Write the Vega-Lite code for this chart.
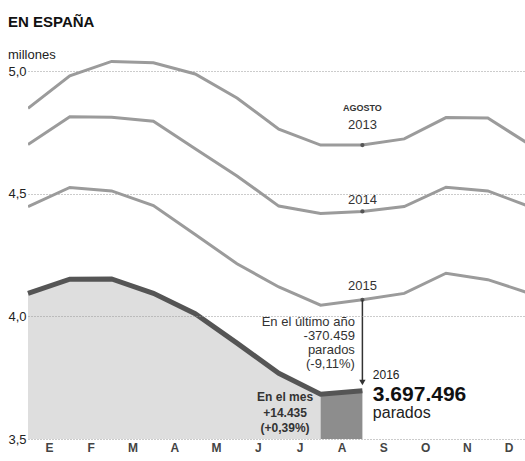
{
  "$schema": "https://vega.github.io/schema/vega-lite/v6.json",
  "autosize": {"type": "none"},
  "padding": {"left": 28, "top": 59, "right": 0, "bottom": 22},
  "width": 497,
  "height": 380,
  "background": "white",
  "config": {
    "font": "Liberation Sans Narrow, Liberation Sans, sans-serif",
    "view": {"stroke": null}
  },
  "title": {
    "text": "EN ESPAÑA",
    "subtitle": "millones",
    "anchor": "start",
    "frame": "group",
    "dx": -20,
    "offset": -3,
    "fontSize": 15,
    "fontWeight": "bold",
    "color": "#111",
    "subtitleFontSize": 13,
    "subtitleColor": "#222",
    "subtitlePadding": 19,
    "font": "Liberation Sans Narrow, Liberation Sans, sans-serif",
    "subtitleFont": "Liberation Sans Narrow, Liberation Sans, sans-serif"
  },
  "datasets": {
    "series": [
      {"year": "2013", "i": 0, "v": 4.849}, {"year": "2013", "i": 1, "v": 4.981}, {"year": "2013", "i": 2, "v": 5.040}, {"year": "2013", "i": 3, "v": 5.035}, {"year": "2013", "i": 4, "v": 4.989}, {"year": "2013", "i": 5, "v": 4.891}, {"year": "2013", "i": 6, "v": 4.764}, {"year": "2013", "i": 7, "v": 4.699}, {"year": "2013", "i": 8, "v": 4.699}, {"year": "2013", "i": 9, "v": 4.724}, {"year": "2013", "i": 10, "v": 4.811}, {"year": "2013", "i": 11, "v": 4.809}, {"year": "2013", "i": 12, "v": 4.701},
      {"year": "2014", "i": 0, "v": 4.701}, {"year": "2014", "i": 1, "v": 4.814}, {"year": "2014", "i": 2, "v": 4.812}, {"year": "2014", "i": 3, "v": 4.796}, {"year": "2014", "i": 4, "v": 4.684}, {"year": "2014", "i": 5, "v": 4.573}, {"year": "2014", "i": 6, "v": 4.450}, {"year": "2014", "i": 7, "v": 4.420}, {"year": "2014", "i": 8, "v": 4.428}, {"year": "2014", "i": 9, "v": 4.448}, {"year": "2014", "i": 10, "v": 4.527}, {"year": "2014", "i": 11, "v": 4.512}, {"year": "2014", "i": 12, "v": 4.448},
      {"year": "2015", "i": 0, "v": 4.448}, {"year": "2015", "i": 1, "v": 4.526}, {"year": "2015", "i": 2, "v": 4.512}, {"year": "2015", "i": 3, "v": 4.452}, {"year": "2015", "i": 4, "v": 4.334}, {"year": "2015", "i": 5, "v": 4.215}, {"year": "2015", "i": 6, "v": 4.120}, {"year": "2015", "i": 7, "v": 4.046}, {"year": "2015", "i": 8, "v": 4.068}, {"year": "2015", "i": 9, "v": 4.094}, {"year": "2015", "i": 10, "v": 4.176}, {"year": "2015", "i": 11, "v": 4.150}, {"year": "2015", "i": 12, "v": 4.094}
    ],
    "y2016": [
      {"i": 0, "v": 4.094}, {"i": 1, "v": 4.152}, {"i": 2, "v": 4.153}, {"i": 3, "v": 4.094}, {"i": 4, "v": 4.011}, {"i": 5, "v": 3.891}, {"i": 6, "v": 3.768}, {"i": 7, "v": 3.683}, {"i": 8, "v": 3.697}
    ],
    "aug": [
      {"year": "2013", "i": 8, "v": 4.699}, {"year": "2014", "i": 8, "v": 4.428}, {"year": "2015", "i": 8, "v": 4.068}
    ],
    "arrow": [{"i": 8, "from": 4.068, "to": 3.73}],
    "yearLabels": [
      {"i": 8, "v": 4.781, "t": "2013"}, {"i": 8, "v": 4.475, "t": "2014"}, {"i": 8, "v": 4.124, "t": "2015"}
    ],
    "agosto": [{"i": 8, "v": 4.85, "t": "AGOSTO"}],
    "yearNote": [
      {"i": 7.82, "v": 3.977, "t": "En el último año"}, {"i": 7.82, "v": 3.920, "t": "-370.459"}, {"i": 7.82, "v": 3.863, "t": "parados"}, {"i": 7.82, "v": 3.806, "t": "(-9,11%)"}
    ],
    "monthNote": [
      {"i": 6.15, "v": 3.671, "t": "En el mes"}, {"i": 6.15, "v": 3.606, "t": "+14.435"}, {"i": 6.15, "v": 3.545, "t": "(+0,39%)"}
    ],
    "label2016": [{"i": 8.25, "v": 3.761, "t": "2016"}],
    "bigNum": [{"i": 8.25, "v": 3.680, "t": "3.697.496"}],
    "parados": [{"i": 8.25, "v": 3.606, "t": "parados"}]
  },
  "layer": [
    {
      "data": {"name": "y2016"},
      "transform": [{"filter": "datum.i <= 7"}],
      "mark": {"type": "area", "color": "#dedede", "clip": true},
      "encoding": {
        "x": {"field": "i", "type": "quantitative", "scale": {"domain": [0, 11.89], "nice": false, "zero": false},
          "axis": {"values": [0.5, 1.5, 2.5, 3.5, 4.5, 5.5, 6.5, 7.5, 8.5, 9.5, 10.5, 11.5],
            "labelExpr": "['E','F','M','A','M','J','J','A','S','O','N','D'][floor(datum.value)]",
            "domain": false, "ticks": false, "grid": false, "title": null,
            "labelFontSize": 12, "labelColor": "#444", "labelPadding": 3, "labelFontWeight": "bold"}},
        "y": {"field": "v", "type": "quantitative", "scale": {"domain": [3.5, 5.05], "nice": false, "zero": false},
          "axis": {"values": [3.5, 4.0, 4.5, 5.0], "labelExpr": "replace(format(datum.value, '.1f'), '.', ',')",
            "domain": false, "ticks": false, "labelAlign": "left", "labelPadding": 20, "labelFontSize": 13,
            "labelColor": "#222", "title": null, "gridDash": [1, 2], "gridColor": "#999", "gridWidth": 1, "zindex": 1}},
        "y2": {"datum": 3.5}
      }
    },
    {
      "data": {"name": "y2016"},
      "transform": [{"filter": "datum.i >= 7"}],
      "mark": {"type": "area", "color": "#8d8d8d"},
      "encoding": {
        "x": {"field": "i", "type": "quantitative"},
        "y": {"field": "v", "type": "quantitative"},
        "y2": {"datum": 3.5}
      }
    },
    {
      "data": {"name": "series"},
      "mark": {"type": "line", "color": "#9b9b9b", "strokeWidth": 3, "clip": true},
      "encoding": {
        "x": {"field": "i", "type": "quantitative"},
        "y": {"field": "v", "type": "quantitative"},
        "detail": {"field": "year"}
      }
    },
    {
      "data": {"name": "y2016"},
      "mark": {"type": "line", "color": "#555555", "strokeWidth": 5},
      "encoding": {
        "x": {"field": "i", "type": "quantitative"},
        "y": {"field": "v", "type": "quantitative"}
      }
    },
    {
      "data": {"name": "aug"},
      "mark": {"type": "point", "filled": true, "color": "#555", "size": 18, "opacity": 1},
      "encoding": {
        "x": {"field": "i", "type": "quantitative"},
        "y": {"field": "v", "type": "quantitative"}
      }
    },
    {
      "data": {"name": "arrow"},
      "mark": {"type": "rule", "color": "#333", "strokeWidth": 1.5},
      "encoding": {
        "x": {"field": "i", "type": "quantitative"},
        "y": {"field": "from", "type": "quantitative"},
        "y2": {"field": "to"}
      }
    },
    {
      "data": {"name": "arrow"},
      "mark": {"type": "point", "shape": "triangle-down", "filled": true, "color": "#333", "size": 40, "opacity": 1},
      "encoding": {
        "x": {"field": "i", "type": "quantitative"},
        "y": {"field": "to", "type": "quantitative"}
      }
    },
    {
      "data": {"name": "yearLabels"},
      "mark": {"type": "text", "fontSize": 13, "color": "#333", "align": "center", "baseline": "middle"},
      "encoding": {
        "x": {"field": "i", "type": "quantitative"},
        "y": {"field": "v", "type": "quantitative"},
        "text": {"field": "t"}
      }
    },
    {
      "data": {"name": "agosto"},
      "mark": {"type": "text", "fontSize": 9, "fontWeight": "bold", "color": "#333", "align": "center", "baseline": "middle"},
      "encoding": {
        "x": {"field": "i", "type": "quantitative"},
        "y": {"field": "v", "type": "quantitative"},
        "text": {"field": "t"}
      }
    },
    {
      "data": {"name": "yearNote"},
      "mark": {"type": "text", "fontSize": 13, "color": "#333", "align": "right", "baseline": "middle"},
      "encoding": {
        "x": {"field": "i", "type": "quantitative"},
        "y": {"field": "v", "type": "quantitative"},
        "text": {"field": "t"}
      }
    },
    {
      "data": {"name": "monthNote"},
      "mark": {"type": "text", "fontSize": 12, "fontWeight": "bold", "color": "#333", "align": "center", "baseline": "middle"},
      "encoding": {
        "x": {"field": "i", "type": "quantitative"},
        "y": {"field": "v", "type": "quantitative"},
        "text": {"field": "t"}
      }
    },
    {
      "data": {"name": "label2016"},
      "mark": {"type": "text", "fontSize": 12, "color": "#222", "align": "left", "baseline": "middle"},
      "encoding": {
        "x": {"field": "i", "type": "quantitative"},
        "y": {"field": "v", "type": "quantitative"},
        "text": {"field": "t"}
      }
    },
    {
      "data": {"name": "bigNum"},
      "mark": {"type": "text", "fontSize": 21, "fontWeight": "bold", "color": "#111", "align": "left", "baseline": "middle"},
      "encoding": {
        "x": {"field": "i", "type": "quantitative"},
        "y": {"field": "v", "type": "quantitative"},
        "text": {"field": "t"}
      }
    },
    {
      "data": {"name": "parados"},
      "mark": {"type": "text", "fontSize": 16, "color": "#222", "align": "left", "baseline": "middle"},
      "encoding": {
        "x": {"field": "i", "type": "quantitative"},
        "y": {"field": "v", "type": "quantitative"},
        "text": {"field": "t"}
      }
    }
  ]
}
